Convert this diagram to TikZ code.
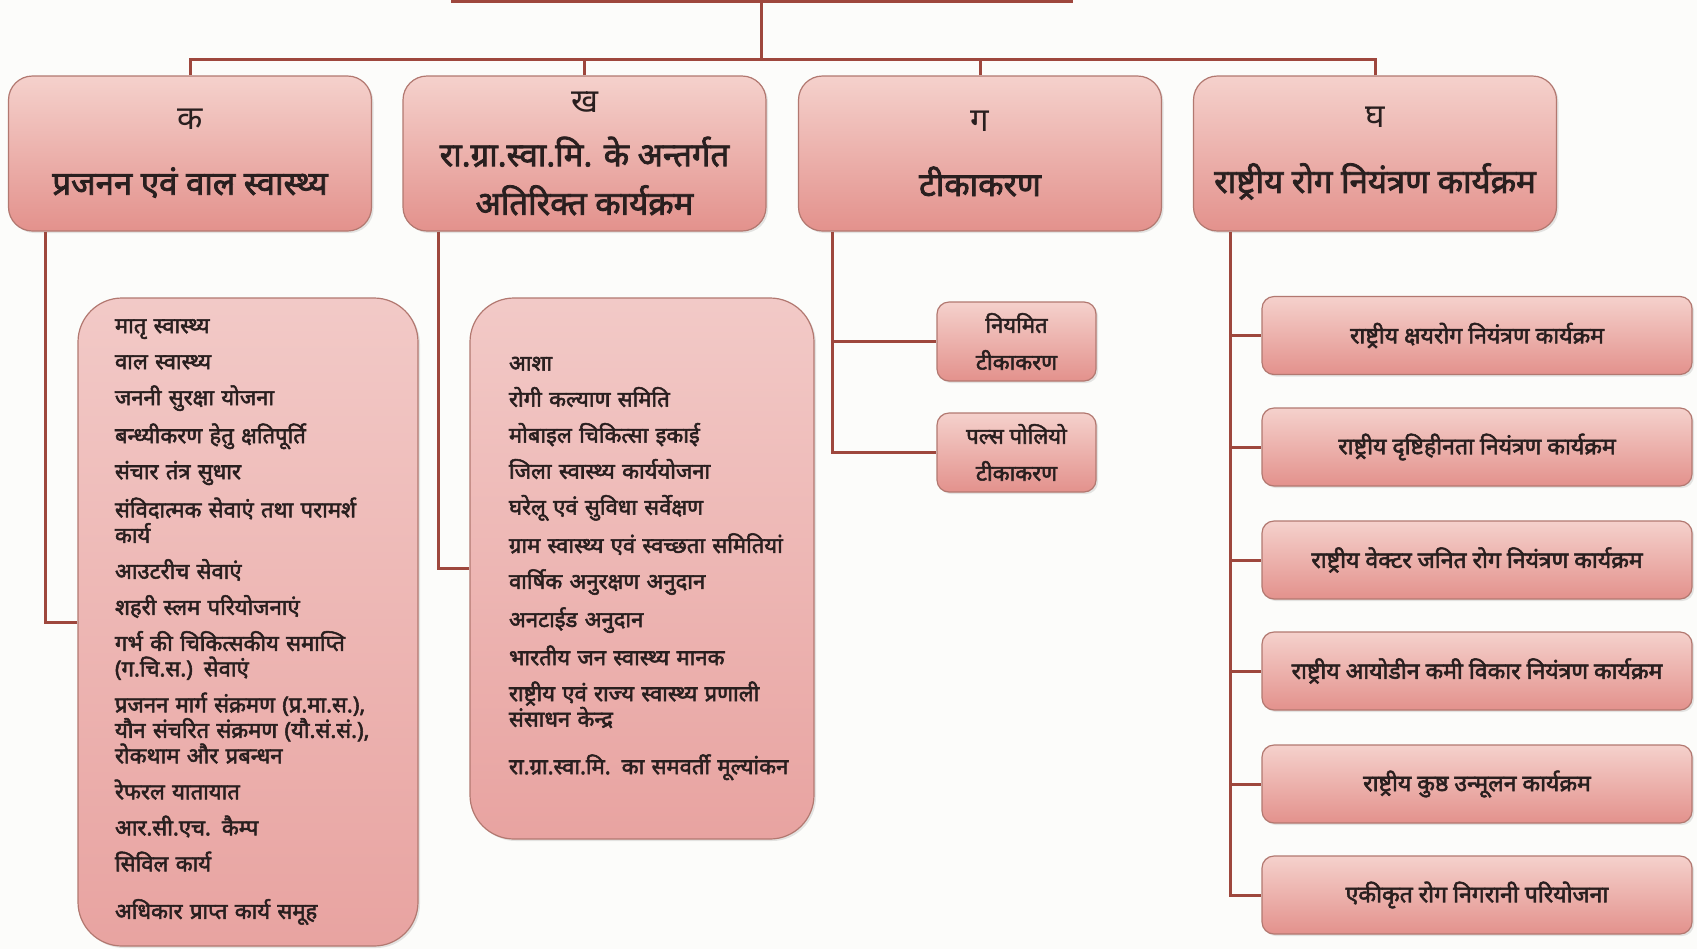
\documentclass[tikz,border=0pt]{standalone}
\usepackage{fontspec}
\usepackage{tikz}
\usetikzlibrary{positioning}
\usetikzlibrary{shadows}
\newfontfamily\hindi[Script=Devanagari, BoldFont=*, BoldFeatures={FakeBold=2.4}]{Noto Sans}
\definecolor{mline}{rgb}{0.62, 0.28, 0.24}
\definecolor{medge}{rgb}{0.70, 0.47, 0.44}
\definecolor{mtop}{rgb}{0.96, 0.82, 0.80}
\definecolor{mbottom}{rgb}{0.89, 0.57, 0.55}
\definecolor{ltop}{rgb}{0.95, 0.79, 0.78}
\definecolor{lbottom}{rgb}{0.91, 0.64, 0.63}
\definecolor{mtext}{rgb}{0.16, 0.12, 0.12}
\definecolor{mback}{rgb}{0.99, 0.99, 0.98}

\tikzset{
    link/.style={mline, line width=1.5pt},
    pinkbox/.style={draw=medge, line width=0.6pt, top color=mtop, bottom color=mbottom, text=mtext, align=center, drop shadow={opacity=0.2, shadow xshift=1pt, shadow yshift=-1pt}},
    headbox/.style={pinkbox, rounded corners=12pt, minimum width=181.5pt, minimum height=77.5pt, font=\hindi\bfseries\fontsize{16.5}{19}\selectfont},
    listbox/.style={pinkbox, top color=ltop, bottom color=lbottom, rounded corners=22pt, align=left, font=\hindi\bfseries\fontsize{11}{12.75}\selectfont},
    smallbox/.style={pinkbox, rounded corners=6pt, minimum width=79.5pt, minimum height=39.5pt, font=\hindi\bfseries\fontsize{11}{18.5}\selectfont},
    rowbox/.style={pinkbox, rounded corners=6pt, minimum width=215pt, minimum height=39pt, font=\hindi\bfseries\fontsize{11.5}{14}\selectfont}
}

\begin{document}
\begin{tikzpicture}[x=0.5pt, y=-0.5pt]
    \fill [mback] (0, 0) rectangle (1697, 949);
    \useasboundingbox (0, 0) rectangle (1697, 949);

    \node [draw=mline, line width=1.5pt, fill=white, minimum width=309.5pt, minimum height=31pt] (root) at (761.5, -30) {};
    \coordinate (bar) at (761.5, 59);

    \node [headbox] (ka) at (190, 153.5) {{\mdseries क}\\[13.5pt]प्रजनन एवं वाल स्वास्थ्य};
    \node [headbox] (kha) at (584.5, 153.5) {{\mdseries ख}\\[8pt]रा.ग्रा.स्वा.मि. के अन्तर्गत\\[5.3pt]अतिरिक्त कार्यक्रम};
    \node [headbox] (ga) at (980, 153.5) {{\mdseries ग}\\[13.5pt]टीकाकरण};
    \node [headbox] (gha) at (1375, 153.5) {{\mdseries घ}\\[13.5pt]राष्ट्रीय रोग नियंत्रण कार्यक्रम};

    \node [listbox, minimum height=324pt, text width=150pt, inner xsep=10pt] (kalist) at (248, 622) {\leftskip=8.5pt
        मातृ स्वास्थ्य\\[5.25pt]
        वाल स्वास्थ्य\\[5.25pt]
        जननी सुरक्षा योजना\\[5.25pt]
        बन्ध्यीकरण हेतु क्षतिपूर्ति\\[5.25pt]
        संचार तंत्र सुधार\\[5.25pt]
        संविदात्मक सेवाएं तथा परामर्श\\
        कार्य\\[5.25pt]
        आउटरीच सेवाएं\\[5.25pt]
        शहरी स्लम परियोजनाएं\\[5.25pt]
        गर्भ की चिकित्सकीय समाप्ति\\
        (ग.चि.स.) सेवाएं\\[5.25pt]
        प्रजनन मार्ग संक्रमण (प्र.मा.स.),\\
        यौन संचरित संक्रमण (यौ.सं.सं.),\\
        रोकथाम और प्रबन्धन\\[5.25pt]
        रेफरल यातायात\\[5.25pt]
        आर.सी.एच. कैम्प\\[5.25pt]
        सिविल कार्य\\[11pt]
        अधिकार प्राप्त कार्य समूह\par};

    \node [listbox, minimum height=270.5pt, text width=155pt, inner xsep=8.5pt] (khalist) at (642, 568.5) {\leftskip=11pt
        आशा\\[5.25pt]
        रोगी कल्याण समिति\\[5.25pt]
        मोबाइल चिकित्सा इकाई\\[5.25pt]
        जिला स्वास्थ्य कार्ययोजना\\[5.25pt]
        घरेलू एवं सुविधा सर्वेक्षण\\[5.25pt]
        ग्राम स्वास्थ्य एवं स्वच्छता समितियां\\[5.25pt]
        वार्षिक अनुरक्षण अनुदान\\[5.25pt]
        अनटाईड अनुदान\\[5.25pt]
        भारतीय जन स्वास्थ्य मानक\\[5.25pt]
        राष्ट्रीय एवं राज्य स्वास्थ्य प्रणाली\\
        संसाधन केन्द्र\\[11pt]
        रा.ग्रा.स्वा.मि. का समवर्ती मूल्यांकन\par};

    \node [smallbox] (ga1) at (1016.5, 341.5) {नियमित\\टीकाकरण};
    \node [smallbox] (ga2) at (1016.5, 452.5) {पल्स पोलियो\\टीकाकरण};

    \node [rowbox] (gha1) at (1477, 335.5) {राष्ट्रीय क्षयरोग नियंत्रण कार्यक्रम};
    \node [rowbox] (gha2) at (1477, 447) {राष्ट्रीय दृष्टिहीनता नियंत्रण कार्यक्रम};
    \node [rowbox] (gha3) at (1477, 560) {राष्ट्रीय वेक्टर जनित रोग नियंत्रण कार्यक्रम};
    \node [rowbox] (gha4) at (1477, 671) {राष्ट्रीय आयोडीन कमी विकार नियंत्रण कार्यक्रम};
    \node [rowbox] (gha5) at (1477, 784) {राष्ट्रीय कुष्ठ उन्मूलन कार्यक्रम};
    \node [rowbox] (gha6) at (1477, 895) {एकीकृत रोग निगरानी परियोजना};

    \coordinate [right=19pt of ka.south west] (kastem);
    \coordinate [right=18pt of kha.south west] (khastem);
    \coordinate [right=17.5pt of ga.south west] (gastem);
    \coordinate [right=19pt of gha.south west] (ghastem);

    \draw [link] (root.south) -- (bar);
    \draw [link] (ka.north) |- (bar);
    \draw [link] (gha.north) |- (bar);
    \draw [link] (kha.north) -- (kha.north |- bar);
    \draw [link] (ga.north) -- (ga.north |- bar);

    \draw [link] (kastem) |- (kalist.west);
    \draw [link] (khastem) |- (khalist.west);
    \draw [link] (gastem) |- (ga2.west);
    \draw [link] (gastem |- ga1.west) -- (ga1.west);
    \draw [link] (ghastem) |- (gha6.west);
    \foreach \i in {1,...,5}
        \draw [link] (ghastem |- gha\i.west) -- (gha\i.west);
\end{tikzpicture}
\end{document}
